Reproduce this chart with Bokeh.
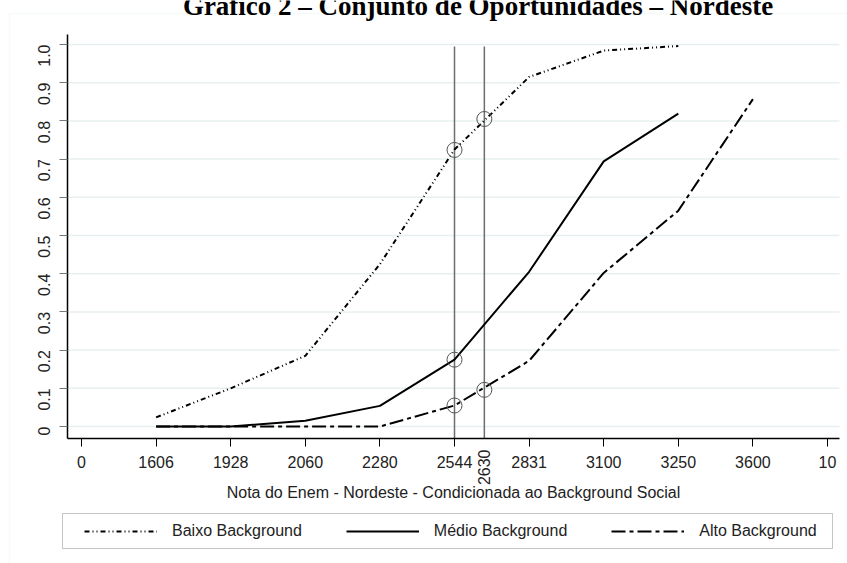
import math
from bokeh.plotting import figure
from bokeh.models import (Range1d, FixedTicker, Legend, LegendItem, Label, LinearAxis, BoxAnnotation)
from bokeh.embed import file_html
from bokeh.resources import INLINE

# ---- data ----
x_labels = ["0", "1606", "1928", "2060", "2280", "2544", "2831", "3100", "3250", "3600", "10"]
x_ticks = [0, 1, 2, 3, 4, 5, 6, 7, 8, 9, 10]
y_ticks = [0, 0.1, 0.2, 0.3, 0.4, 0.5, 0.6, 0.7, 0.8, 0.9, 1.0]
y_labels = ["0", "0.1", "0.2", "0.3", "0.4", "0.5", "0.6", "0.7", "0.8", "0.9", "1.0"]

baixo_x = [1, 2, 3, 4, 5, 6, 7, 8]
baixo_y = [0.024, 0.10, 0.185, 0.425, 0.725, 0.915, 0.984, 0.996]
medio_x = [1, 2, 3, 4, 5, 6, 7, 8]
medio_y = [0.0, 0.0, 0.015, 0.054, 0.175, 0.405, 0.694, 0.819]
alto_x = [1, 2, 3, 4, 5, 6, 7, 8, 9]
alto_y = [0.0, 0.0, 0.0, 0.0, 0.055, 0.172, 0.402, 0.565, 0.857]

# vertical reference lines: 2544 (tick 5) and 2630 (between 2544 and 2831)
vline_x = [5, 5.4]
vline_label = "2630"

# circled points
circ_x = [5, 5.4, 5, 5, 5.4]
circ_y = [0.724, 0.805, 0.175, 0.055, 0.096]

title_text = "Gráfico 2 – Conjunto de Oportunidades – Nordeste"
x_title = "Nota do Enem - Nordeste - Condicionada ao Background Social"
series_names = ["Baixo Background", "Médio Background", "Alto Background"]

FONT = "Liberation Sans"

# plot-area extent (data units)
X0, X1 = -0.194, 10.16
Y0, Y1 = -0.0314, 1.026

# the frame covers the whole canvas; axes are pinned at the plot-area edges
p = figure(width=847, height=563, output_backend="svg", toolbar_location=None,
           x_range=Range1d(-1.0858, 10.268), y_range=Range1d(-0.3586, 1.1152),
           x_axis_location=None, y_axis_location=None,
           min_border_left=0, min_border_right=0, min_border_top=0, min_border_bottom=0)
p.outline_line_color = None
p.background_fill_color = "white"
p.border_fill_color = "white"
p.xgrid.grid_line_color = None
p.ygrid.grid_line_color = None

# faint outer graph-region frame
p.add_layout(BoxAnnotation(left=-0.965, right=11, top=1.0812, bottom=-1,
                           fill_alpha=0, line_color="#e2eaec", line_width=1.5))

# horizontal grid lines at the y ticks
p.segment(x0=[X0] * len(y_ticks), y0=y_ticks, x1=[X1] * len(y_ticks), y1=y_ticks,
          line_color="#e8eff1", line_width=1.5)

# x axis
xa = LinearAxis(fixed_location=Y0, bounds=(X0, X1))
xa.ticker = FixedTicker(ticks=x_ticks)
xa.major_label_overrides = {t: l for t, l in zip(x_ticks, x_labels)}
xa.minor_tick_line_color = None
xa.major_tick_in = 0
xa.major_tick_out = 8
xa.major_tick_line_color = "black"
xa.axis_line_color = "black"
xa.axis_line_width = 1.5
xa.major_label_text_font = FONT
xa.major_label_text_font_size = "16px"
xa.major_label_text_color = "#222222"
xa.major_label_standoff = 9
xa.axis_label = x_title
xa.axis_label_text_font = FONT
xa.axis_label_text_font_style = "normal"
xa.axis_label_text_font_size = "16px"
xa.axis_label_text_color = "#222222"
xa.axis_label_standoff = 13
p.add_layout(xa, "below")

# y axis
ya = LinearAxis(fixed_location=X0, bounds=(Y0, Y1))
ya.ticker = FixedTicker(ticks=y_ticks)
ya.major_label_overrides = {t: l for t, l in zip(y_ticks, y_labels)}
ya.minor_tick_line_color = None
ya.major_tick_in = 0
ya.major_tick_out = 8
ya.major_tick_line_color = "#777777"
ya.axis_line_color = "black"
ya.axis_line_width = 1.5
ya.major_label_orientation = math.pi / 2
ya.major_label_text_font = FONT
ya.major_label_text_font_size = "16px"
ya.major_label_text_color = "#222222"
ya.major_label_standoff = 15
p.add_layout(ya, "left")

# vertical lines
for vx in vline_x:
    p.segment(x0=vx, y0=Y0, x1=vx, y1=0.995, line_color="#6e6e6e", line_width=1.5)

# series
r_b = p.line(baixo_x, baixo_y, line_color="black", line_width=2, line_dash="5 3 1 3 1 3")
r_m = p.line(medio_x, medio_y, line_color="black", line_width=2)
r_a = p.line(alto_x, alto_y, line_color="black", line_width=2, line_dash="14 4 4 4")

# circles
p.scatter(circ_x, circ_y, marker="circle", size=15, fill_color=None,
          line_color="#555555", line_width=1)

# 2630 rotated label
p.add_layout(Label(x=vline_x[1], y=-0.0602, text=vline_label,
                   angle=math.pi / 2, text_align="right", text_baseline="middle",
                   text_font=FONT, text_font_size="16px", text_color="#222222"))

# title (partially cut at top, as in reference)
p.add_layout(Label(x=5.315, y=1.0995, text=title_text,
                   text_align="center", text_baseline="alphabetic",
                   text_font="Liberation Serif", text_font_style="bold",
                   text_font_size="27px", text_color="black"))

# legend frame
p.add_layout(BoxAnnotation(left=-0.2547, right=10.067, top=-0.2277, bottom=-0.3194,
                           fill_color="white", fill_alpha=1,
                           line_color="#404040", line_width=1))

legend = Legend(items=[LegendItem(label=series_names[0], renderers=[r_b]),
                       LegendItem(label=series_names[1], renderers=[r_m]),
                       LegendItem(label=series_names[2], renderers=[r_a])],
                orientation="horizontal", location=(84, 23),
                glyph_width=73, glyph_height=14, label_standoff=15, spacing=44,
                padding=8, margin=0,
                label_text_font=FONT, label_text_font_size="16px", label_text_color="#222222",
                border_line_color=None, background_fill_alpha=0)
p.add_layout(legend, "center")

open("out.html", "w").write(file_html(p, INLINE))
